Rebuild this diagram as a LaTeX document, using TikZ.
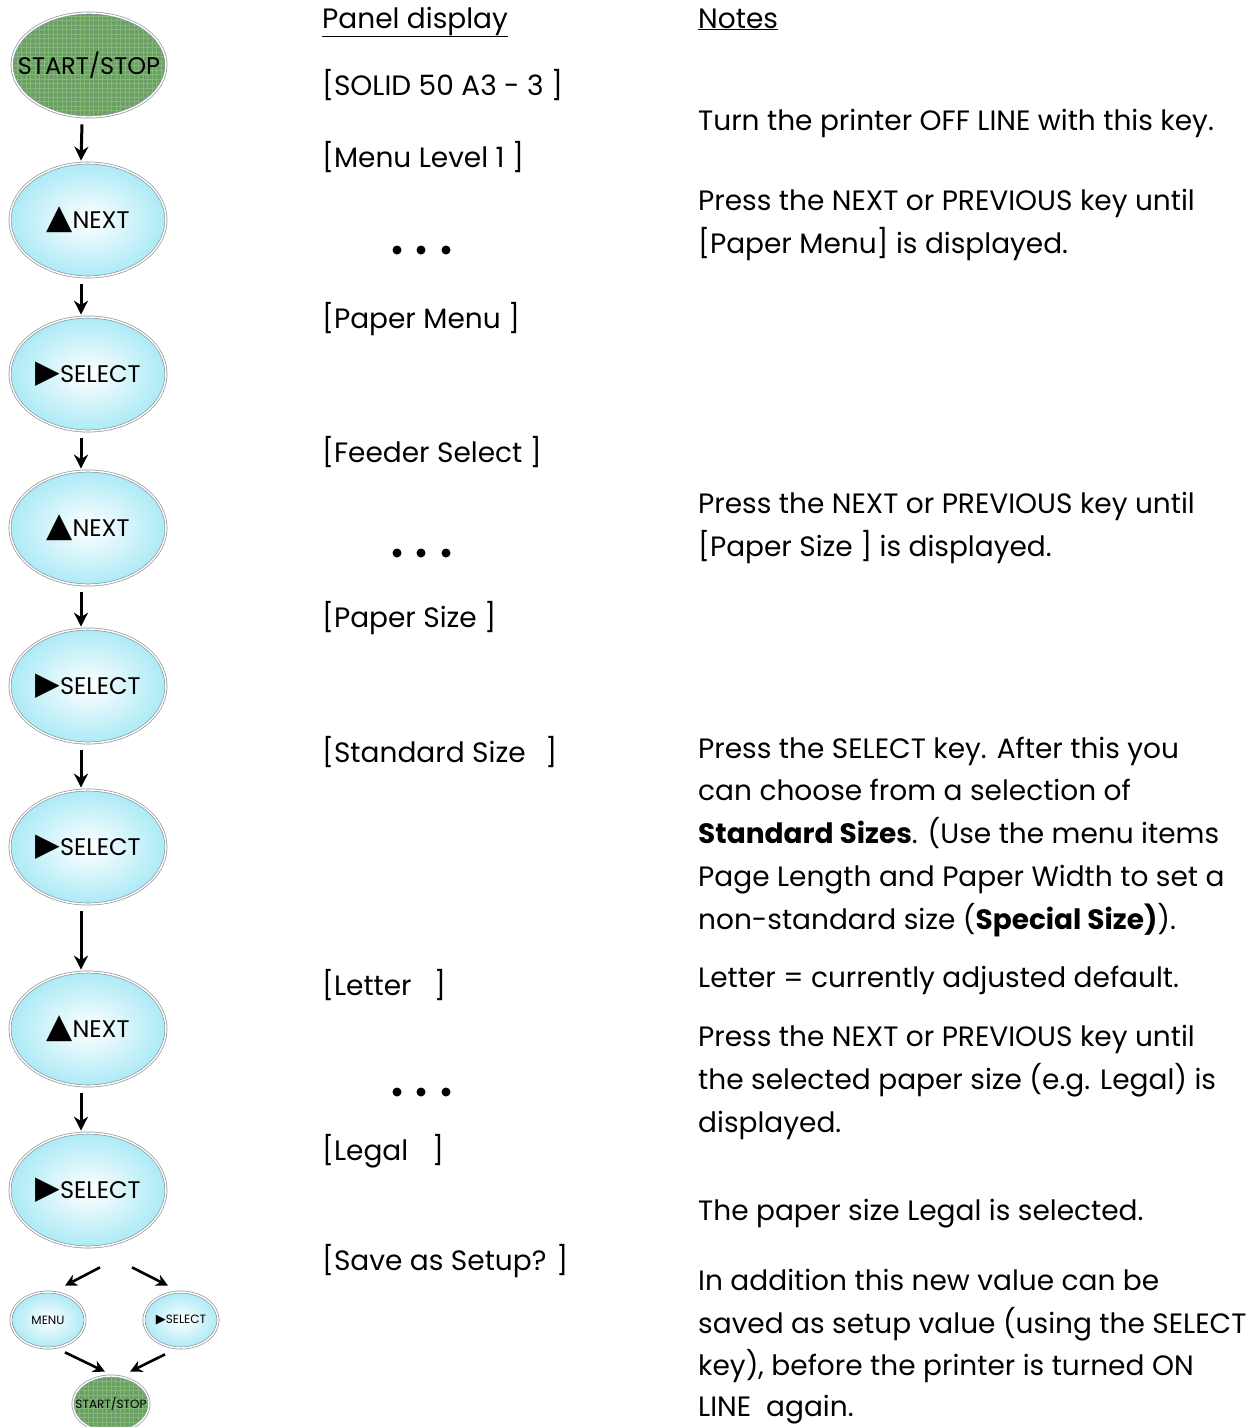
\documentclass[tikz,border=0pt]{standalone}
\usepackage{fontspec}
\setmainfont{Poppins}
\newfontfamily\symfont{DejaVu Sans}
\usetikzlibrary{shapes.geometric,arrows.meta,calc}
\definecolor{keycyan}{RGB}{172,234,246}
\definecolor{keygreen}{RGB}{110,158,104}
\definecolor{keygrid}{RGB}{128,186,116}
\definecolor{keyrim}{RGB}{140,150,155}
\newcommand{\uptri}{{\symfont\fontsize{34}{30}\selectfont ▲}}
\newcommand{\rttri}{{\symfont\fontsize{32}{30}\selectfont ▶}}
\newcommand{\klabel}[1]{\makebox[0pt][c]{#1}}
\begin{document}
\begin{tikzpicture}[x=1pt,y=-1pt,
  pd/.style={anchor=base west,inner sep=0,font=\fontsize{28}{32}\selectfont},
  nt/.style={anchor=base west,inner sep=0,font=\fontsize{28}{32}\selectfont},
  keybase/.style={ellipse,draw=keyrim,double=white,double distance=1.4pt,line width=0.7pt,inner sep=0,minimum width=156pt,minimum height=114pt,font=\fontsize{24}{26}\selectfont},
  keyc/.style={keybase,inner color=white,outer color=keycyan},
  keyg/.style={keybase,fill=keygreen,path picture={\draw[keygrid,line width=0.4pt,step=4.5pt] (path picture bounding box.south west) grid (path picture bounding box.north east);}},
  smallc/.style={keyc,minimum width=74pt,minimum height=56pt,font=\fontsize{12}{13}\selectfont},
  smallg/.style={keyg,minimum width=76pt,minimum height=56pt,font=\fontsize{12}{13}\selectfont},
  arr/.style={-{Stealth[length=14pt,width=14pt]},line width=3pt},
  sarr/.style={-{Stealth[length=12pt,width=12pt]},line width=2.6pt},
  dot/.style={circle,fill=black,inner sep=0,minimum size=9pt}
]
\path[use as bounding box,fill=white] (0,0) rectangle (1259,1427);

% keys
\node[keyg,minimum height=104pt,minimum width=154pt] (k1) at (89,65) {\klabel{START/STOP}};
\node[keyc] (k2) at (88,220) {\klabel{\uptri NEXT}};
\node[keyc] (k3) at (88,374) {\klabel{\rttri SELECT}};
\node[keyc] (k4) at (88,528) {\klabel{\uptri NEXT}};
\node[keyc] (k5) at (88,686) {\klabel{\rttri SELECT}};
\node[keyc] (k6) at (88,847) {\klabel{\rttri SELECT}};
\node[keyc] (k7) at (88,1029) {\klabel{\uptri NEXT}};
\node[keyc] (k8) at (88,1190) {\klabel{\rttri SELECT}};
\node[smallc] (k9) at (48,1320) {\klabel{MENU}};
\node[smallc] (k10) at (181,1320) {\klabel{{\symfont\fontsize{13}{13}\selectfont ▶}SELECT}};
\node[smallg] (k11) at (111,1404) {\klabel{START/STOP}};

% vertical arrows
\foreach \a/\b in {k1/k2,k2/k3,k3/k4,k4/k5,k5/k6,k6/k7,k7/k8}{
  \draw[arr] ($(\a.south)+(-7,7)$) -- ($(\b.north)+(-7,-2)$);
}
% split / merge arrows
\draw[sarr] ($(k8.south)+(12,20)$) -- ($(k9.north)+(17,-6)$);
\draw[sarr] ($(k8.south)+(44,20)$) -- ($(k10.north)+(-13,-6)$);
\draw[sarr] ($(k9.south)+(17,4)$) -- ($(k11.north)+(-6,-4)$);
\draw[sarr] ($(k10.south)+(-16,6)$) -- ($(k11.north)+(19,-4)$);

% panel display column
\node[pd] (h1) at (322,28) {\underline{Panel display}};
\node[pd] (p1) at (322,95) {[SOLID 50 A3 - 3 ]};
\node[pd] (p2) at (322,167) {[Menu Level 1 ]};
\node[dot] (d1a) at (397,250) {};
\node[dot] (d1b) at (421,250) {};
\node[dot] (d1c) at (446,250) {};
\node[pd] (p3) at (322,328) {[Paper Menu ]};
\node[pd] (p4) at (322,462) {[Feeder Select ]};
\node[dot] (d2a) at (397,553) {};
\node[dot] (d2b) at (421,553) {};
\node[dot] (d2c) at (446,553) {};
\node[pd] (p5) at (322,627) {[Paper Size ]};
\node[pd] (p6) at (322,762) {[Standard Size\hspace{0.7em}]};
\node[pd] (p7) at (322,995) {[Letter\hspace{0.8em}]};
\node[dot] (d3a) at (397,1092) {};
\node[dot] (d3b) at (421,1092) {};
\node[dot] (d3c) at (446,1092) {};
\node[pd] (p8) at (322,1160) {[Legal\hspace{0.85em}]};
\node[pd] (p9) at (322,1270) {[Save as Setup? ]};

% notes column
\node[nt] (h2) at (698,28) {\underline{Notes}};
\node[nt] (n1) at (698,130) {Turn the printer OFF LINE with this key.};
\node[nt] (n2) at (698,210) {Press the NEXT or PREVIOUS key until};
\node[nt] (n3) at (698,253) {[Paper Menu] is displayed.};
\node[nt] (n4) at (698,513) {Press the NEXT or PREVIOUS key until};
\node[nt] (n5) at (698,556) {[Paper Size ] is displayed.};
\node[nt] (n6) at (698,758) {Press the SELECT key. After this you};
\node[nt] (n7) at (698,800) {can choose from a selection of};
\node[nt] (n8) at (698,843) {{\bfseries Standard Sizes}. (Use the menu items};
\node[nt] (n9) at (698,886) {Page Length and Paper Width to set a};
\node[nt] (n10) at (698,929) {non-standard size ({\bfseries Special Size)}).};
\node[nt] (n11) at (698,987) {Letter = currently adjusted default.};
\node[nt] (n12) at (698,1046) {Press the NEXT or PREVIOUS key until};
\node[nt] (n13) at (698,1089) {the selected paper size (e.g. Legal) is};
\node[nt] (n14) at (698,1132) {displayed.};
\node[nt] (n15) at (698,1220) {The paper size Legal is selected.};
\node[nt] (n16) at (698,1290) {In addition this new value can be};
\node[nt] (n17) at (698,1333) {saved as setup value (using the SELECT};
\node[nt] (n18) at (698,1375) {key), before the printer is turned ON};
\node[nt] (n19) at (698,1416) {LINE\ \ again.};
\end{tikzpicture}
\end{document}
